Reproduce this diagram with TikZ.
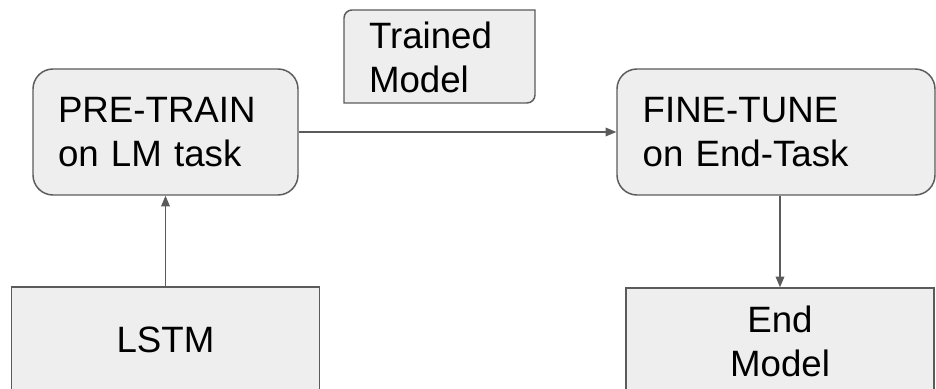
\documentclass[tikz,border=0pt]{standalone}
\usepackage{fontspec}
\setmainfont{Liberation Sans}
\usetikzlibrary{arrows.meta}

\definecolor{boxfill}{HTML}{EEEEEE}
\definecolor{boxline}{HTML}{5B5B5B}

\tikzset{
  stagebox/.style={draw=boxline, fill=boxfill, line width=1.1pt, rounded corners=15pt,
    inner xsep=18.75pt, inner ysep=0pt, align=left,
    font=\fontsize{27.5}{33}\selectfont, minimum height=94.5pt},
  netbox/.style={draw=boxline, fill=boxfill, line width=1.1pt,
    inner sep=0pt, align=center, text width=231pt,
    font=\fontsize{27.5}{33}\selectfont, minimum height=79.5pt},
  flow/.style={draw=boxline, line width=1pt, -{Triangle[length=8pt,width=6.5pt]}}
}

\begin{document}
\begin{tikzpicture}[x=0.75pt, y=0.75pt]
  \clip (0,0) rectangle (936,389);
  \fill[white] (0,0) rectangle (936,389);

  % upper row
  \node[stagebox, text width=161.25pt] (pretrain) at (165.5,257) {PRE-TRAIN\\on LM task};
  \node[stagebox, text width=200pt, inner xsep=19.25pt] (finetune) at (776,257) {FINE-TUNE\\on End-Task};

  % the trained model tag
  \draw[draw=boxline, fill=boxfill, line width=1.1pt]
    (344,286) -- (344,371) arc[start angle=180, end angle=90, radius=8]
    -- (535,379) -- (535,294) arc[start angle=0, end angle=-90, radius=8] -- cycle;
  \node[align=left, inner sep=0pt, text width=105.75pt, font=\fontsize{27.5}{33}\selectfont]
    (trained) at (439.5,331.5) {Trained\\Model};

  % lower row, cut off at the bottom
  \node[netbox] (lstm) at (165.5,49) {LSTM};
  \node[netbox, text width=231pt] (endmodel) at (780,48) {End\\Model};

  \draw[flow] (lstm) -- (pretrain);
  \draw[flow] (pretrain) -- (finetune);
  \draw[flow] (finetune.south -| endmodel.north) -- (endmodel.north);
\end{tikzpicture}
\end{document}
